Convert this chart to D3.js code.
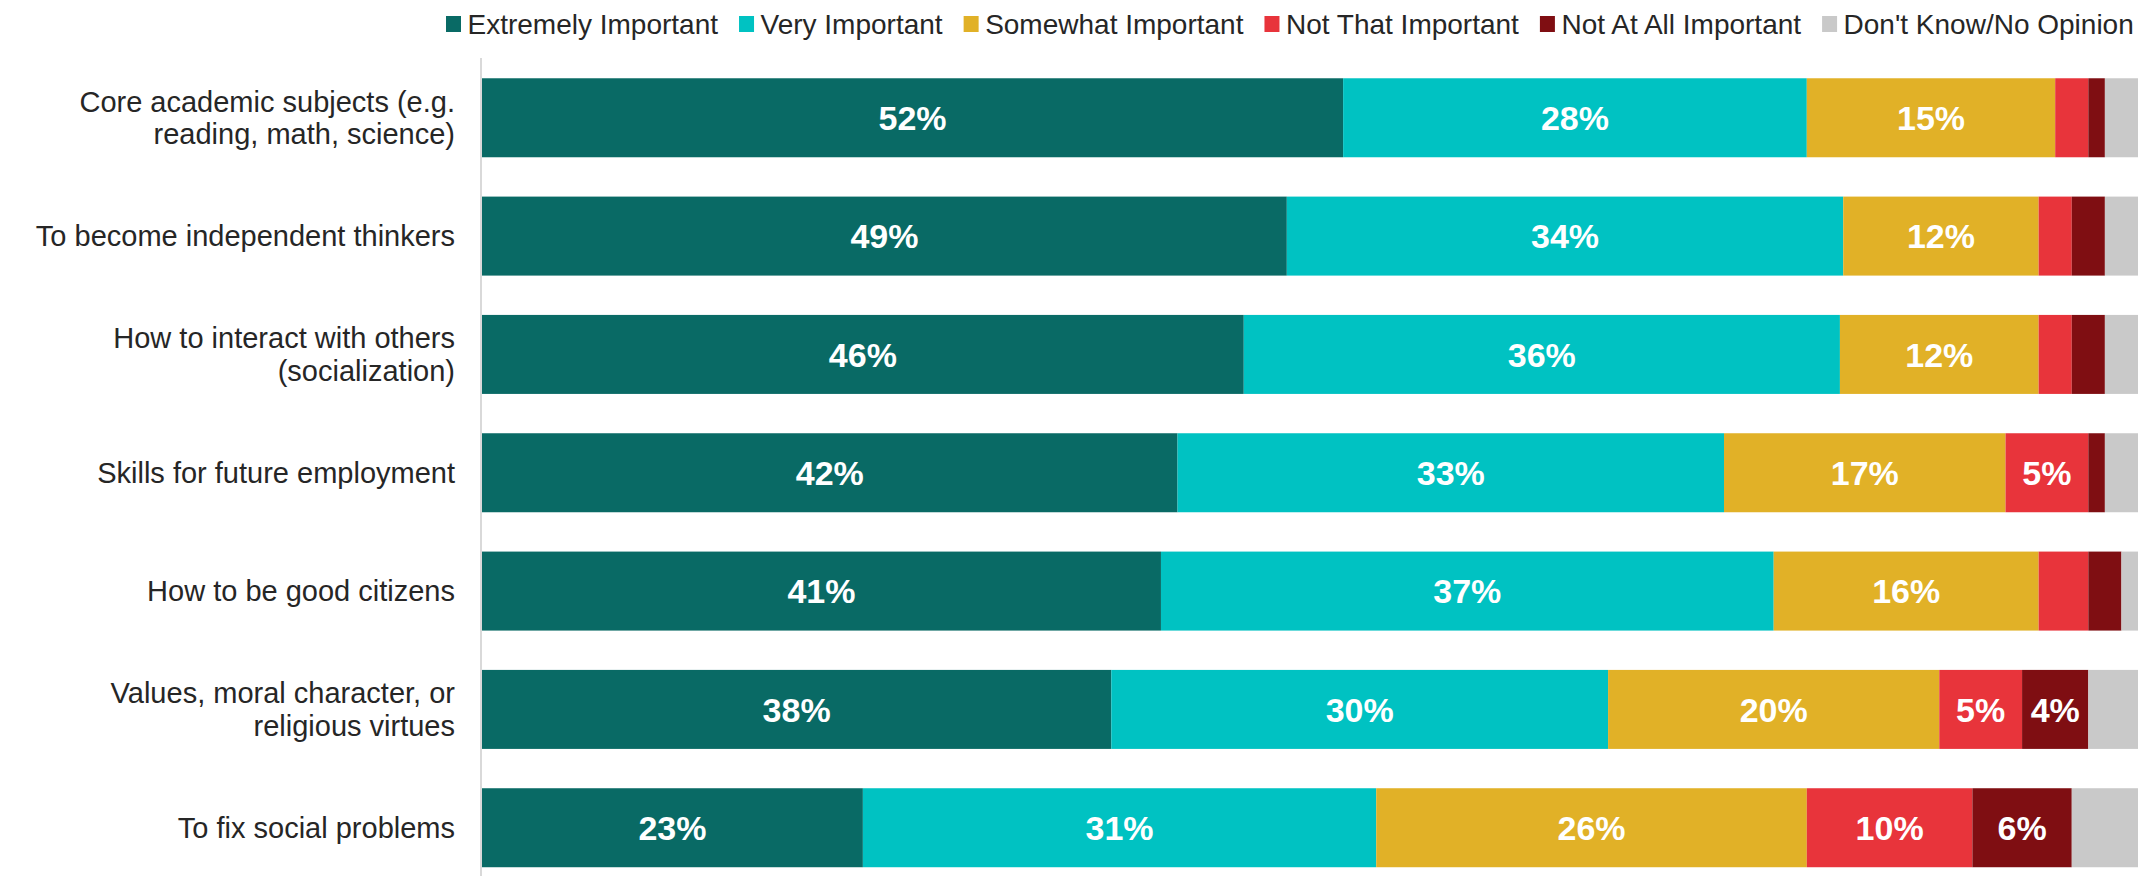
<!DOCTYPE html>
<html>
<head>
<meta charset="utf-8">
<script src="https://cdn.jsdelivr.net/npm/d3@7"></script>
<style>
  html, body { margin: 0; padding: 0; background: #ffffff; }
  svg { display: block; font-family: "Liberation Sans", Arial, sans-serif; }
</style>
</head>
<body>
<svg id="chart" width="2152" height="876"></svg>
<script>
// ---- Data ----
const categories = [
  "Core academic subjects (e.g.\nreading, math, science)",
  "To become independent thinkers",
  "How to interact with others\n(socialization)",
  "Skills for future employment",
  "How to be good citizens",
  "Values, moral character, or\nreligious virtues",
  "To fix social problems"
];
const seriesNames = [
  "Extremely Important",
  "Very Important",
  "Somewhat Important",
  "Not That Important",
  "Not At All Important",
  "Don't Know/No Opinion"
];
const extremelyImportant = [52, 48.6, 46, 42, 41, 38, 23];
const veryImportant      = [28, 33.6, 36, 33, 37, 30, 31];
const somewhatImportant  = [15, 11.8, 12, 17, 16, 20, 26];
const notThatImportant   = [2, 2, 2, 5, 3, 5, 10];
const notAtAllImportant  = [1, 2, 2, 1, 2, 4, 6];
const dontKnow           = [2, 2, 2, 2, 1, 3, 4];
const seriesColors = ["#096a65", "#00c2c2", "#e1b127", "#e8343b", "#7f0e12", "#c9c9c9"];
const labeledSeries = ["Extremely Important", "Very Important", "Somewhat Important", "Not That Important", "Not At All Important"];

// ---- Build table ----
const seriesValues = [extremelyImportant, veryImportant, somewhatImportant, notThatImportant, notAtAllImportant, dontKnow];
const table = categories.map((c, i) => {
  const row = { category: c };
  seriesNames.forEach((s, j) => { row[s] = seriesValues[j][i]; });
  return row;
});
const stacked = d3.stack().keys(seriesNames)(table);
stacked.forEach(layer => layer.forEach(p => { p.key = layer.key; }));

// ---- Layout ----
const svg = d3.select("#chart");
const x = d3.scaleLinear().domain([0, 100]).range([482, 2138]);
const y = d3.scaleBand().domain(categories).range([58.6, 886.9]).paddingInner(0.3324).paddingOuter(0.1662);
const color = d3.scaleOrdinal().domain(seriesNames).range(seriesColors);

// axis line
svg.append("line")
  .attr("x1", 481).attr("x2", 481)
  .attr("y1", 58).attr("y2", 876)
  .attr("stroke", "#d9d9d9").attr("stroke-width", 2);

// bars
const layers = svg.append("g").selectAll("g")
  .data(stacked).join("g")
  .attr("fill", d => color(d.key));

layers.selectAll("rect")
  .data(d => d)
  .join("rect")
  .attr("x", d => x(d[0]))
  .attr("y", d => y(d.data.category))
  .attr("width", d => x(d[1]) - x(d[0]))
  .attr("height", y.bandwidth());

// value labels
layers.selectAll("text")
  .data(d => d.filter(p => labeledSeries.includes(p.key) && p.data[p.key] >= 4))
  .join("text")
  .attr("x", d => (x(d[0]) + x(d[1])) / 2)
  .attr("y", d => y(d.data.category) + y.bandwidth() / 2)
  .attr("dy", "0.36em")
  .attr("text-anchor", "middle")
  .attr("fill", "#ffffff")
  .attr("font-weight", "bold")
  .attr("font-size", "34px")
  .text(d => Math.round(d.data[d.key]) + "%");

// category axis labels
const yAxisG = svg.append("g");
categories.forEach(c => {
  const lines = c.split("\n");
  const cy = y(c) + y.bandwidth() / 2;
  const lh = 32.6;
  const t = yAxisG.append("text")
    .attr("text-anchor", "end")
    .attr("font-size", "29px")
    .attr("fill", "#262626");
  lines.forEach((ln, k) => {
    t.append("tspan")
      .attr("x", 455)
      .attr("y", cy + (k - (lines.length - 1) / 2) * lh)
      .attr("dy", "0.35em")
      .text(ln);
  });
});

// legend
const legend = svg.append("g");
let lx = 446;
seriesNames.forEach((s, i) => {
  legend.append("rect")
    .attr("x", lx).attr("y", 16)
    .attr("width", 15).attr("height", 16)
    .attr("fill", seriesColors[i]);
  const t = legend.append("text")
    .attr("x", lx + 21.5).attr("y", 34)
    .attr("font-size", "28px")
    .attr("fill", "#262626")
    .text(s);
  lx = lx + 21.5 + t.node().getComputedTextLength() + 21;
});
</script>
</body>
</html>
